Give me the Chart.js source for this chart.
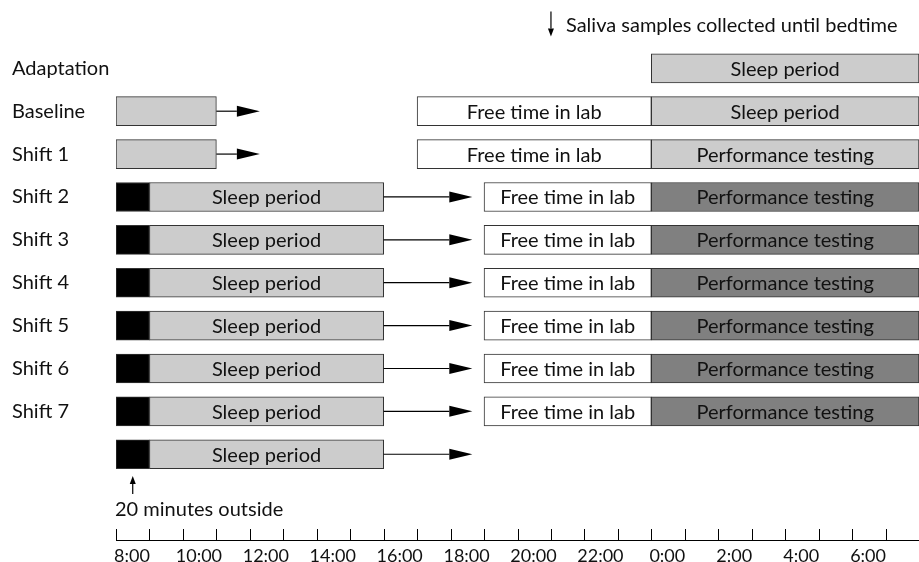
<!DOCTYPE html>
<html lang="en">
<head>
  <meta charset="UTF-8">
  <title>Shift protocol</title>
  <script src="https://cdn.jsdelivr.net/npm/chart.js"></script>
  <style>
    html, body { margin: 0; padding: 0; background: #fff; }
  </style>
</head>
<body>

<canvas id="protocolChart" width="919" height="562"></canvas>

<script>
  // rows top to bottom; first row only carries the saliva note
  const rowLabels = ['', 'Adaptation', 'Baseline', 'Shift 1', 'Shift 2', 'Shift 3',
                     'Shift 4', 'Shift 5', 'Shift 6', 'Shift 7', ''];

  // hours from 8:00, values past 24 are after midnight
  const hourLabels = ['8:00', '10:00', '12:00', '14:00', '16:00', '18:00',
                      '20:00', '22:00', '0:00', '2:00', '4:00', '6:00'];

  // [start, end] per row, null where the row has no such block
  const outside      = [null, null, null, null, [8, 9], [8, 9], [8, 9], [8, 9], [8, 9], [8, 9], [8, 9]];
  const sleepPeriod  = [null, [24, 32], [24, 32], null, [9, 16], [9, 16], [9, 16], [9, 16], [9, 16], [9, 16], [9, 16]];
  const morning      = [null, null, [8, 11], [8, 11], null, null, null, null, null, null, null];
  const freeTime     = [null, null, [17, 24], [17, 24], [19, 24], [19, 24], [19, 24], [19, 24], [19, 24], [19, 24], null];
  const perfBaseline = [null, null, null, [24, 32], null, null, null, null, null, null, null];
  const perfShifted  = [null, null, null, null, [24, 32], [24, 32], [24, 32], [24, 32], [24, 32], [24, 32], null];

  // travel arrows: from, to (hour) per row
  const arrowFrom = [null, null, 11, 11, 16, 16, 16, 16, 16, 16, 16];
  const arrowTo   = [null, null, 12.3, 12.3, 18.65, 18.65, 18.65, 18.65, 18.65, 18.65, 18.65];

  const salivaNote  = { text: 'Saliva samples collected until bedtime', hour: 21, row: 0 };
  const outsideNote = { text: '20 minutes outside', hour: 8.5, row: 11.3 };

  const FONT = 'Lato';
  const LIGHT = '#cccccc';
  const DARK = '#808080';
  const EDGE = '#333333';

  function toBars(ranges) {
    return ranges.map((r, i) => r ? { x: r, y: i } : null).filter(Boolean);
  }

  function barSet(label, ranges, color, text) {
    return {
      label: label,
      data: toBars(ranges),
      backgroundColor: color,
      borderColor: EDGE,
      borderWidth: 1,
      borderSkipped: false,
      grouped: false,
      barThickness: 29,
      text: text
    };
  }

  function drawArrow(ctx, x0, y0, x1, y1, len, half) {
    const a = Math.atan2(y1 - y0, x1 - x0);
    const bx = x1 - Math.cos(a) * len;
    const by = y1 - Math.sin(a) * len;
    ctx.beginPath();
    ctx.moveTo(x0, y0);
    ctx.lineTo(bx, by);
    ctx.stroke();
    ctx.beginPath();
    ctx.moveTo(x1, y1);
    ctx.lineTo(bx - Math.sin(a) * half, by + Math.cos(a) * half);
    ctx.lineTo(bx + Math.sin(a) * half, by - Math.cos(a) * half);
    ctx.closePath();
    ctx.fill();
  }

  // text inside the bars
  const barText = {
    id: 'barText',
    afterDatasetsDraw(chart) {
      const ctx = chart.ctx;
      ctx.save();
      ctx.font = '20px ' + FONT;
      ctx.fillStyle = '#111';
      ctx.textAlign = 'center';
      ctx.textBaseline = 'middle';
      chart.data.datasets.forEach((ds, i) => {
        if (!ds.text) return;
        chart.getDatasetMeta(i).data.forEach(bar => {
          ctx.fillText(ds.text, (bar.x + bar.base) / 2, bar.y + 1);
        });
      });
      ctx.restore();
    }
  };

  // arrows, notes and upward tick marks on the time axis
  const extras = {
    id: 'extras',
    afterDraw(chart) {
      const { ctx, scales: { x, y } } = chart;
      ctx.save();
      ctx.strokeStyle = '#000';
      ctx.fillStyle = '#000';
      ctx.lineWidth = 1.2;

      rowLabels.forEach((_, row) => {
        if (arrowFrom[row] == null) return;
        const py = y.getPixelForValue(row);
        drawArrow(ctx, x.getPixelForValue(arrowFrom[row]), py, x.getPixelForValue(arrowTo[row]), py, 23, 5.5);
      });

      // saliva note, arrow pointing down
      const sx = x.getPixelForValue(salivaNote.hour);
      const sy = y.getPixelForValue(salivaNote.row);
      drawArrow(ctx, sx, sy - 14, sx, sy + 11, 8, 3);
      ctx.font = '20px ' + FONT;
      ctx.textBaseline = 'middle';
      ctx.textAlign = 'left';
      ctx.fillStyle = '#111';
      ctx.fillText(salivaNote.text, sx + 15, sy);

      // 20 minutes outside note, arrow pointing up
      ctx.fillStyle = '#000';
      const ox = x.getPixelForValue(outsideNote.hour);
      const oy = y.getPixelForValue(outsideNote.row);
      drawArrow(ctx, ox, oy - 16, ox, oy - 34, 8, 3);
      ctx.fillStyle = '#111';
      ctx.fillText(outsideNote.text, x.getPixelForValue(8) - 1, oy);

      // tick marks
      ctx.lineWidth = 1;
      ctx.strokeStyle = '#000';
      const base = x.top;
      x.ticks.forEach(t => {
        const px = Math.round(x.getPixelForValue(t.value)) + 0.5;
        ctx.beginPath();
        ctx.moveTo(px, base);
        ctx.lineTo(px, base - 11);
        ctx.stroke();
      });
      ctx.restore();
    }
  };

  const ctx = document.getElementById('protocolChart').getContext('2d');

  new Chart(ctx, {
    type: 'bar',
    data: {
      datasets: [
        barSet('Outside', outside, '#000000'),
        barSet('Sleep period', sleepPeriod, LIGHT, 'Sleep period'),
        barSet('Morning', morning, LIGHT),
        barSet('Free time in lab', freeTime, '#ffffff', 'Free time in lab'),
        barSet('Performance testing (baseline)', perfBaseline, LIGHT, 'Performance testing'),
        barSet('Performance testing', perfShifted, DARK, 'Performance testing')
      ]
    },
    options: {
      indexAxis: 'y',
      responsive: false,
      animation: false,
      devicePixelRatio: 1,
      layout: { padding: { left: 12, top: 4, right: 0, bottom: 0 } },
      plugins: {
        legend: { display: false },
        tooltip: { enabled: false }
      },
      scales: {
        x: {
          type: 'linear',
          position: 'bottom',
          min: 8,
          max: 32,
          grid: { display: false, drawTicks: false },
          border: { display: true, color: '#000', width: 1 },
          ticks: {
            stepSize: 1,
            autoSkip: false,
            maxRotation: 0,
            labelOffset: 16,
            padding: 5,
            color: '#111',
            font: { family: FONT, size: 18 },
            callback: v => (v % 2 === 0 && v < 32) ? hourLabels[(v - 8) / 2] : ''
          },
          afterFit: s => {
            s.height = 22;
            s.paddingLeft = 0;
            s.paddingRight = 0;
          }
        },
        y: {
          type: 'linear',
          reverse: true,
          offset: false,
          min: -0.5,
          max: 12,
          grid: { display: false },
          border: { display: false },
          ticks: {
            stepSize: 1,
            autoSkip: false,
            crossAlign: 'far',
            color: '#111',
            font: { family: FONT, size: 20 },
            callback: v => Number.isInteger(v) ? (rowLabels[v] || '') : ''
          },
          afterFit: s => {
            s.width = 104;
            s.paddingTop = 0;
            s.paddingBottom = 0;
          }
        }
      }
    },
    plugins: [barText, extras]
  });
</script>

</body>
</html>
